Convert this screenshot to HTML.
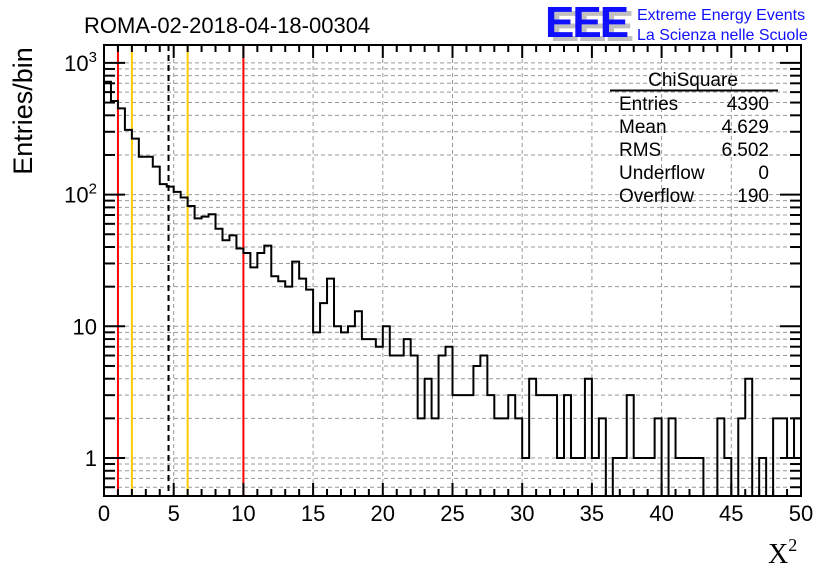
<!DOCTYPE html>
<html><head><meta charset="utf-8"><style>
html,body{margin:0;padding:0;background:#fff;}
svg{display:block;font-family:"Liberation Sans",Arial,sans-serif;}
</style></head><body>
<svg id="c" width="836" height="572" viewBox="0 0 836 572">
<rect x="0" y="0" width="836" height="572" fill="#fff"/>
<g id="grid"></g>
<g id="marks"></g>
<g id="axes"></g>
<text x="84" y="33" font-size="22">ROMA-02-2018-04-18-00304</text>
<text transform="translate(32,111) rotate(-90)" font-size="27" text-anchor="middle">Entries/bin</text>
<text x="768" y="563" font-size="28" font-family="Liberation Serif,serif">X<tspan font-size="18" dy="-12">2</tspan></text>
<g>
<text x="550" y="41" font-size="44" font-weight="bold" fill="#c0c0c0" letter-spacing="-2">EEE</text>
<text x="545" y="37" font-size="44" font-weight="bold" fill="#1010ff" letter-spacing="-2">EEE</text>
<text x="637" y="20" font-size="16" fill="#1010ff">Extreme Energy Events</text>
<text x="637" y="40" font-size="16" fill="#1010ff">La Scienza nelle Scuole</text>
</g>
<g font-size="19">
<text x="693" y="86" text-anchor="middle">ChiSquare</text>
<line x1="610" y1="90.5" x2="778" y2="90.5" stroke="#000" stroke-width="2"/>
<text x="619" y="110">Entries</text><text x="769" y="110" text-anchor="end">4390</text>
<text x="619" y="133">Mean</text><text x="769" y="133" text-anchor="end">4.629</text>
<text x="619" y="156">RMS</text><text x="769" y="156" text-anchor="end">6.502</text>
<text x="619" y="179">Underflow</text><text x="769" y="179" text-anchor="end">0</text>
<text x="619" y="202">Overflow</text><text x="769" y="202" text-anchor="end">190</text>
</g>
</svg>
<script>
const binCounts = [720,514,452,310,266,194,194,163,120,115,105,95,82,66,68,71,55,45,49,39,36,28,36,41,24,22,20,31,23,19,9,15,23,10,9,10,13,8,8,7,10,6,6,8,6,2,4,2,6,7,3,3,3,5,6,3,2,2,3,2,1,4,3,3,3,1,3,1,1,4,1,2,0,1,1,3,1,1,1,2,0,2,1,1,1,1,0,0,2,1,0,2,4,0,1,0,2,2,1,2];
const xRange = [0,50];
const xTicks = [0,5,10,15,20,25,30,35,40,45,50];
const yDecades = [1,10,100,1000];
const yTickLabels = ["1","10","10²","10³"];
const refLines = [1,2,4.629,6,10];
const refColors = ["#ff0000","#ffcc00","#000000","#ffcc00","#ff0000"];
const L=104,R=801,T=45,B=496;
const yMin=Math.pow(10,-0.2885), yMax=Math.pow(10,3.136);
const NS="http://www.w3.org/2000/svg";
function sx(v){return L+(v-xRange[0])/(xRange[1]-xRange[0])*(R-L);}
function sy(v){if(v<yMin)v=yMin;return B-(Math.log10(v)-Math.log10(yMin))/(Math.log10(yMax)-Math.log10(yMin))*(B-T);}
function mk(tag,attrs,parent){const e=document.createElementNS(NS,tag);for(const k in attrs)e.setAttribute(k,attrs[k]);document.getElementById(parent).appendChild(e);return e;}
xTicks.forEach(t=>{if(t>xRange[0]&&t<xRange[1]){const g=mk('line',{x1:sx(t),x2:sx(t),y1:T,y2:B,stroke:'#999','stroke-dasharray':'4,3','stroke-width':1},'grid');

}});
for(let d=0.1;d<=1000;d*=10){for(let m=1;m<10;m++){const v=d*m;if(v<=yMin||v>=yMax)continue;const y=sy(v);const g=mk('line',{x1:L,x2:R,y1:y,y2:y,stroke:'#999','stroke-dasharray':'4,3','stroke-width':1},'grid');

}}
refLines.forEach((v,i)=>{const l=mk('line',{x1:sx(v),x2:sx(v),y1:T,y2:B,stroke:refColors[i],'stroke-width':2},'marks');if(i==2)l.setAttribute('stroke-dasharray','6,4');

});
const bw=(xRange[1]-xRange[0])/binCounts.length;
let d='';
binCounts.forEach((c,i)=>{const x0=sx(xRange[0]+i*bw),x1=sx(xRange[0]+(i+1)*bw),y=sy(c);d+=(i==0?'M'+x0+','+y:'L'+x0+','+y)+'L'+x1+','+y;});
const h=mk('path',{d:d,fill:'none',stroke:'#000','stroke-width':2},'marks');


const fr=mk('rect',{x:L,y:T,width:R-L,height:B-T,fill:'none',stroke:'#000','stroke-width':2},'axes');


for(let v=xRange[0];v<=xRange[1];v++){const maj=v%5==0;const len=maj?13:7;const x=sx(v);
mk('line',{x1:x,x2:x,y1:B,y2:B-len,stroke:'#000','stroke-width':2},'axes');
mk('line',{x1:x,x2:x,y1:T,y2:T+len,stroke:'#000','stroke-width':2},'axes');}
xTicks.forEach(t=>{const tx=mk('text',{x:sx(t),y:521,'font-size':22,'text-anchor':'middle'},'axes');tx.textContent=String(t);

});
for(let dd=0.1;dd<=1000;dd*=10){for(let m=1;m<10;m++){const v=dd*m;if(v<=yMin||v>=yMax)continue;const y=sy(v);const len=m==1?21:11;
mk('line',{x1:L,x2:L+len,y1:y,y2:y,stroke:'#000','stroke-width':2},'axes');
mk('line',{x1:R,x2:R-len,y1:y,y2:y,stroke:'#000','stroke-width':2},'axes');}}
yDecades.forEach((v,i)=>{const tx=mk('text',{x:97,y:sy(v)+8,'font-size':22,'text-anchor':'end'},'axes');
const s=yTickLabels[i];
if(s.length>2&&(s.endsWith('²')||s.endsWith('³'))){tx.textContent=s.slice(0,-1);const ts=document.createElementNS(NS,'tspan');ts.setAttribute('font-size','15');ts.setAttribute('dy','-9');ts.textContent=s.slice(-1)=='²'?'2':'3';tx.appendChild(ts);}else tx.textContent=s;

});
</script>
</body></html>
